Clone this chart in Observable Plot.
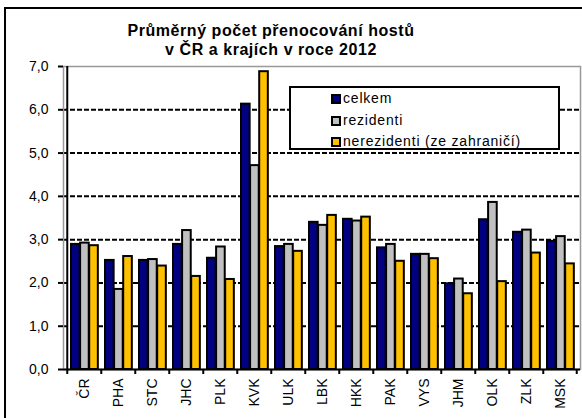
<!DOCTYPE html>
<html>
<head>
<meta charset="utf-8">
<script src="https://cdn.jsdelivr.net/npm/d3@7"></script>
<script src="https://cdn.jsdelivr.net/npm/@observablehq/plot@0.6"></script>
<style>
  html, body { margin: 0; padding: 0; background: #fff; }
  #wrap { position: relative; width: 582px; height: 418px; overflow: hidden; font-family: "Liberation Sans", Arial, sans-serif; }
  #border { position: absolute; left: 4px; top: 7px; width: 700px; height: 500px; border: 2px solid #000; box-sizing: border-box; }
  #title { position: absolute; left: 71px; width: 400px; top: 21px; text-align: center; font-weight: bold; font-size: 16px; line-height: 19px; color: #000; letter-spacing: 0.55px; }
  #chart { position: absolute; left: 0; top: 58px; }
  #legend { position: absolute; left: 289px; top: 86px; width: 271px; height: 64px; border: 2px solid #000; background: #fff; box-sizing: border-box; }
  .row { position: absolute; left: 40px; font-size: 14px; line-height: 16px; letter-spacing: 0.8px; color: #000; white-space: nowrap; }
  .sw { display: inline-block; width: 6px; height: 6px; border: 2px solid #000; margin-right: 2px; vertical-align: -1px; }
</style>
</head>
<body>
<div id="wrap">
  <div id="border"></div>
  <div id="title">Průměrný počet přenocování hostů<br>v ČR a krajích v roce 2012</div>
  <div id="chart"></div>
  <div id="legend"></div>
</div>
<script>
const categories = ["ČR","PHA","STC","JHC","PLK","KVK","ULK","LBK","HKK","PAK","VYS","JHM","OLK","ZLK","MSK"];
const series = ["celkem", "rezidenti", "nerezidenti (ze zahraničí)"];
const celkem      = [2.89, 2.52, 2.52, 2.89, 2.57, 6.13, 2.84, 3.40, 3.47, 2.81, 2.66, 1.98, 3.46, 3.17, 2.96];
const rezidenti   = [2.92, 1.85, 2.54, 3.21, 2.83, 4.71, 2.89, 3.33, 3.43, 2.89, 2.66, 2.09, 3.86, 3.22, 3.07];
const nerezidenti = [2.86, 2.61, 2.39, 2.15, 2.08, 6.88, 2.73, 3.56, 3.52, 2.50, 2.56, 1.75, 2.03, 2.69, 2.44];
const yTicks = [0, 1, 2, 3, 4, 5, 6, 7];
const colors = ["#000080", "#C0C0C0", "#FFC000"];

const valuesBySeries = [celkem, rezidenti, nerezidenti];
const width = 582, height = 360, mL = 63, mR = 2, mT = 8, mB = 49;
const step = (width - mL - mR) / categories.length;
const barW = 9.1, outer = 4;

const barMarks = valuesBySeries.map((vals, i) => {
  const rows = categories.map((c, j) => ({cat: c, value: vals[j]}));
  return Plot.barY(rows, {
    x: "cat", y: "value",
    fill: colors[i], stroke: "#000", strokeWidth: 2,
    insetLeft: outer + barW * i,
    insetRight: step - outer - barW * (i + 1)
  });
});

const fmt = d => d.toFixed(1).replace(".", ",");

const plot = Plot.plot({
  width, height,
  marginLeft: mL, marginRight: mR, marginTop: mT, marginBottom: mB,
  style: {fontFamily: "'Liberation Sans', Arial, sans-serif", fontSize: "14px", color: "#000", background: "transparent"},
  x: {domain: categories, padding: 0, label: null},
  y: {domain: [0, 7], label: null},
  marks: [
    Plot.ruleY(yTicks.filter(d => d > 0 && d < 7), {stroke: "#000", strokeWidth: 2, strokeDasharray: "5,2", strokeOpacity: 1}),
    Plot.frame({stroke: "#999", strokeWidth: 1.5}),
    ...barMarks,
    Plot.axisY(yTicks, {tickFormat: fmt, tickSize: 5, tickPadding: 10, strokeWidth: 2, fontSize: 14, letterSpacing: 1, label: null}),
    Plot.ruleX([0], {x: () => categories[0], dx: -step / 2, stroke: "#000", strokeWidth: 2}),
    Plot.axisX({ticks: categories, tickSize: 5, strokeWidth: 2, dx: -step / 2, tickFormat: () => "", label: null}),
    Plot.axisX({ticks: categories.slice(-1), tickSize: 5, strokeWidth: 2, dx: step / 2 - 1, tickFormat: () => "", label: null}),
    Plot.axisX({ticks: categories, tickSize: 0, tickPadding: 9, tickRotate: -90, fontSize: 14, letterSpacing: 1.3, label: null}),
    Plot.ruleY([0], {stroke: "#000", strokeWidth: 2})
  ]
});
document.getElementById("chart").appendChild(plot);

const legend = document.getElementById("legend");
series.forEach((s, i) => {
  const row = document.createElement("div");
  row.className = "row";
  row.style.top = (2 + i * 21.5) + "px";
  const sw = document.createElement("span");
  sw.className = "sw";
  sw.style.background = colors[i];
  row.appendChild(sw);
  row.appendChild(document.createTextNode(s));
  legend.appendChild(row);
});
</script>
</body>
</html>
